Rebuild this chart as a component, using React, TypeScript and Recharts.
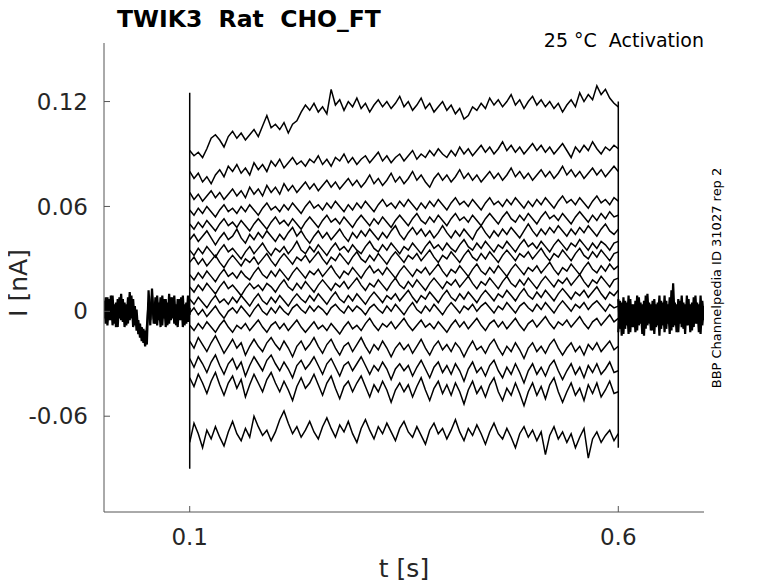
import React from "react";
import { LineChart, Line, XAxis, YAxis } from "recharts";

// Current traces during the voltage step (pA), sampled every 5 ms from 0.1 s to 0.6 s
const TRACE_A = [
  92, 89, 91, 88, 93, 99, 101, 98, 94, 100,
  103, 99, 102, 98, 101, 104, 100, 106, 112, 105,
  107, 104, 108, 102, 107, 109, 114, 118, 115, 119,
  114, 117, 113, 127, 118, 121, 115, 120, 117, 122,
  116, 119, 114, 118, 121, 117, 120, 116, 119, 123,
  117, 120, 115, 118, 122, 116, 119, 114, 117, 120,
  115, 118, 113, 116, 110, 112, 117, 115, 119, 116,
  122, 118, 121, 117, 120, 124, 118, 121, 116, 120,
  123, 118, 121, 117, 120, 116, 119, 114, 118, 121,
  117, 125, 120, 124, 121, 129, 124, 127, 122, 119,
  117,
];
const TRACE_B = [
  80, 76, 79, 74, 77, 73, 78, 81, 77, 83,
  80, 84, 79, 82, 78, 85, 81, 84, 80, 86,
  83, 87, 82, 85, 88, 84, 86, 83, 87, 85,
  89, 84, 87, 83, 88, 86, 90, 85, 88, 84,
  87, 89, 85, 88, 91, 86, 89, 85, 88, 90,
  86, 89, 92, 87, 90, 88, 92, 89, 93, 90,
  88, 92, 89, 94, 90, 93, 89, 92, 95, 91,
  94, 90, 93, 97, 92, 95, 91, 94, 90, 93,
  96, 92, 95, 91, 94, 90, 93, 96, 92, 88,
  94, 91, 95, 92, 97, 93, 90, 94, 92, 95,
  93,
];
const TRACE_C = [
  68, 64, 67, 63, 66, 69, 65, 68, 64, 67,
  70, 66, 69, 65, 71, 67, 70, 66, 72, 68,
  71, 67, 73, 69, 72, 68, 71, 74, 70, 73,
  69, 72, 75, 71, 74, 70, 73, 76, 72, 75,
  71, 74, 78, 73, 76, 72, 75, 79, 74, 77,
  73, 76, 80, 75, 78, 74, 71, 76, 79, 75,
  78, 74, 77, 81, 76, 79, 75, 78, 74, 77,
  80, 76, 79, 75, 78, 82, 77, 80, 76, 79,
  75, 78, 81, 77, 80, 76, 79, 83, 78, 81,
  77, 80, 76, 79, 82, 78, 81, 77, 80, 83,
  80,
];
const TRACE_D = [
  58, 55, 59, 56, 60, 57, 54, 58, 61, 57,
  59, 56, 60, 57, 61, 58, 55, 59, 62, 58,
  60, 57, 61, 58, 62, 59, 56, 60, 63, 59,
  61, 58, 62, 59, 63, 60, 57, 61, 58, 62,
  59, 63, 60, 57, 61, 64, 60, 62, 59, 63,
  60, 64, 61, 58, 62, 59, 63, 60, 64, 61,
  58, 62, 65, 61, 63, 60, 64, 61, 58, 62,
  65, 61, 63, 60, 64, 61, 65, 62, 59, 63,
  60, 64, 61, 65, 62, 59, 63, 66, 62, 64,
  61, 65, 62, 59, 63, 66, 62, 64, 61, 65,
  63,
];
const TRACE_E = [
  50, 47, 51, 48, 52, 49, 46, 50, 53, 49,
  51, 48, 52, 49, 46, 50, 53, 50, 47, 51,
  54, 50, 52, 49, 53, 50, 47, 51, 54, 51,
  48, 52, 55, 51, 53, 50, 54, 51, 48, 52,
  55, 52, 49, 53, 50, 54, 51, 48, 52, 55,
  52, 49, 53, 56, 52, 50, 54, 51, 55, 52,
  49, 53, 56, 52, 54, 51, 55, 52, 49, 53,
  56, 53, 50, 54, 57, 53, 51, 55, 52, 56,
  53, 50, 54, 57, 53, 55, 52, 56, 53, 50,
  54, 57, 54, 51, 55, 52, 56, 53, 57, 54,
  55,
];
const TRACE_F = [
  41, 44, 40, 43, 46, 42, 38, 42, 45, 41,
  43, 47, 42, 39, 44, 41, 45, 42, 46, 43,
  40, 44, 41, 45, 48, 43, 46, 42, 39, 43,
  46, 42, 45, 41, 44, 47, 43, 40, 45, 42,
  46, 43, 47, 44, 41, 45, 42, 46, 49, 44,
  41, 45, 48, 44, 47, 43, 46, 42, 45, 49,
  45, 42, 46, 43, 47, 44, 41, 46, 49, 45,
  42, 46, 43, 47, 44, 48, 45, 42, 46, 50,
  46, 43, 47, 44, 48, 45, 49, 46, 43, 47,
  44, 48, 45, 49, 46, 43, 47, 50, 46, 44,
  47,
];
const TRACE_G = [
  35, 32, 36, 33, 37, 34, 31, 35, 38, 34,
  36, 33, 30, 34, 37, 33, 36, 39, 35, 32,
  36, 34, 37, 33, 36, 40, 35, 33, 37, 34,
  38, 35, 32, 36, 39, 35, 37, 34, 38, 35,
  33, 37, 40, 36, 34, 38, 35, 39, 36, 33,
  37, 35, 39, 36, 33, 37, 40, 36, 38, 35,
  39, 36, 34, 38, 41, 37, 35, 39, 36, 40,
  37, 34, 38, 36, 40, 37, 34, 38, 41, 37,
  39, 36, 40, 37, 34, 38, 41, 38, 35, 39,
  37, 41, 38, 35, 39, 36, 40, 38, 35, 39,
  40,
];
const TRACE_H = [
  28, 31, 27, 30, 26, 29, 32, 28, 25, 29,
  32, 29, 26, 30, 28, 31, 27, 30, 33, 29,
  26, 30, 33, 30, 27, 31, 29, 32, 28, 31,
  34, 30, 27, 31, 29, 33, 30, 27, 31, 34,
  30, 28, 32, 29, 33, 30, 27, 31, 34, 31,
  28, 32, 30, 33, 29, 32, 35, 31, 28, 32,
  30, 34, 31, 28, 32, 35, 31, 29, 33, 30,
  34, 31, 28, 32, 35, 32, 29, 33, 31, 34,
  30, 33, 36, 32, 29, 33, 31, 35, 32, 29,
  33, 36, 32, 30, 34, 31, 35, 32, 29, 33,
  34,
];
const TRACE_I = [
  21, 18, 22, 19, 23, 20, 17, 21, 24, 20,
  22, 19, 23, 20, 18, 22, 25, 21, 19, 23,
  20, 24, 21, 18, 22, 25, 22, 19, 23, 21,
  24, 20, 23, 26, 22, 19, 23, 21, 25, 22,
  19, 23, 26, 22, 24, 21, 25, 22, 19, 23,
  26, 23, 20, 24, 22, 25, 21, 24, 27, 23,
  20, 24, 22, 26, 23, 20, 24, 27, 23, 21,
  25, 22, 26, 23, 20, 24, 27, 24, 21, 25,
  23, 26, 22, 25, 28, 24, 21, 25, 23, 27,
  24, 21, 25, 28, 24, 22, 26, 23, 27, 24,
  26,
];
const TRACE_J = [
  14, 11, 15, 12, 16, 13, 10, 14, 17, 13,
  15, 12, 9, 13, 16, 13, 15, 12, 16, 14,
  11, 15, 18, 14, 12, 16, 13, 17, 14, 11,
  15, 18, 15, 12, 16, 14, 17, 13, 16, 19,
  15, 12, 16, 14, 18, 15, 12, 16, 19, 15,
  13, 17, 14, 18, 15, 12, 16, 19, 16, 13,
  17, 15, 18, 14, 17, 20, 16, 13, 17, 15,
  19, 16, 13, 17, 20, 16, 14, 18, 15, 19,
  16, 13, 17, 20, 17, 14, 18, 16, 19, 15,
  18, 21, 17, 14, 18, 16, 20, 17, 14, 18,
  19,
];
const TRACE_K = [
  7, 4, 8, 5, 2, 6, 9, 5, 7, 4,
  8, 5, 9, 6, 3, 7, 10, 6, 4, 8,
  5, 9, 6, 3, 7, 10, 7, 5, 9, 6,
  10, 7, 4, 8, 11, 7, 5, 9, 6, 10,
  7, 4, 8, 11, 8, 5, 9, 7, 10, 6,
  9, 12, 8, 5, 9, 7, 11, 8, 5, 9,
  12, 8, 6, 10, 7, 11, 8, 5, 9, 12,
  9, 6, 10, 8, 12, 9, 6, 10, 13, 9,
  7, 11, 8, 12, 9, 6, 10, 13, 10, 7,
  11, 9, 12, 8, 11, 14, 10, 7, 11, 9,
  12,
];
const TRACE_L = [
  -1, 2, -2, 1, -3, 0, 3, -1, -4, 0,
  2, -1, 3, 0, -3, 1, 4, 0, -2, 2,
  -1, 3, 0, -2, 2, 4, 1, -1, 3, 0,
  3, 1, -2, 2, 4, 1, -1, 3, 0, 3,
  1, -2, 2, 4, 1, -1, 3, 0, 4, 1,
  -2, 2, 5, 1, -1, 3, 0, 4, 1, -2,
  2, 5, 2, -1, 3, 1, 4, 0, 3, 5,
  2, -1, 3, 1, 5, 2, -1, 3, 5, 2,
  0, 4, 1, 5, 2, -1, 3, 6, 3, 0,
  4, 2, 5, 1, 4, 6, 3, 0, 4, 2,
  3,
];
const TRACE_M = [
  -8, -11, -7, -10, -6, -9, -12, -8, -5, -9,
  -12, -8, -10, -7, -11, -8, -5, -9, -12, -8,
  -6, -10, -7, -11, -8, -5, -9, -12, -9, -6,
  -10, -8, -11, -7, -10, -13, -9, -6, -10, -8,
  -11, -7, -4, -8, -11, -7, -9, -6, -10, -7,
  -4, -8, -11, -8, -5, -9, -7, -10, -6, -9,
  -12, -8, -5, -9, -6, -10, -7, -4, -8, -11,
  -7, -5, -9, -6, -10, -7, -4, -8, -11, -7,
  -5, -9, -6, -3, -7, -10, -6, -8, -5, -9,
  -6, -3, -7, -10, -6, -4, -8, -5, -2, -6,
  -4,
];
const TRACE_N = [
  -17, -21, -15, -19, -23, -18, -14, -19, -24, -20,
  -16, -21, -18, -25, -20, -16, -20, -23, -18, -15,
  -19, -22, -17, -21, -26, -20, -17, -22, -19, -15,
  -20, -24, -19, -16, -21, -25, -20, -18, -23, -19,
  -15, -20, -24, -19, -22, -17, -21, -26, -21, -18,
  -22, -19, -24, -20, -16, -21, -25, -20, -17, -22,
  -19, -23, -18, -21, -26, -21, -17, -22, -20, -24,
  -19, -16, -21, -25, -20, -23, -18, -22, -27, -21,
  -18, -23, -20, -24, -19, -16, -21, -25, -21, -18,
  -23, -20, -25, -19, -22, -18, -23, -20, -17, -22,
  -20,
];
const TRACE_O = [
  -27, -32, -26, -30, -35, -29, -25, -31, -36, -30,
  -27, -33, -29, -37, -31, -26, -30, -34, -28, -25,
  -30, -34, -29, -33, -38, -31, -28, -33, -30, -26,
  -31, -36, -30, -27, -32, -37, -31, -29, -34, -30,
  -26, -31, -36, -31, -34, -29, -33, -39, -33, -30,
  -34, -31, -37, -32, -28, -33, -38, -32, -29, -35,
  -31, -36, -30, -34, -40, -33, -29, -35, -32, -37,
  -31, -28, -34, -38, -32, -36, -30, -35, -41, -34,
  -30, -36, -32, -37, -31, -28, -34, -39, -34, -30,
  -36, -32, -38, -31, -35, -30, -36, -33, -29, -35,
  -34,
];
const TRACE_P = [
  -38, -43, -36, -41, -47, -40, -35, -42, -48, -41,
  -37, -44, -39, -49, -42, -36, -41, -46, -39, -35,
  -41, -46, -40, -45, -51, -43, -38, -44, -41, -36,
  -42, -48, -41, -37, -44, -50, -43, -40, -46, -41,
  -37, -43, -49, -42, -46, -40, -45, -52, -45, -41,
  -46, -42, -49, -43, -38, -45, -51, -44, -40, -47,
  -42, -48, -41, -46, -53, -45, -40, -47, -43, -49,
  -42, -38, -46, -51, -44, -48, -41, -47, -54, -46,
  -41, -48, -43, -50, -42, -38, -46, -52, -46, -41,
  -48, -44, -51, -42, -47, -41, -49, -45, -40, -47,
  -46,
];
const TRACE_Q = [
  -75, -64, -70, -78, -68, -73, -66, -72, -77, -69,
  -63, -70, -74, -67, -72, -60, -66, -71, -68, -74,
  -69, -62, -57, -64, -70, -66, -72, -68, -63, -69,
  -73, -66, -61, -67, -72, -65, -69, -63, -70, -75,
  -67, -62, -68, -73, -66, -70, -64, -69, -74, -67,
  -63, -69, -72, -66, -71, -76, -68, -64, -70, -67,
  -73, -68, -62, -69, -74, -67, -71, -65, -70, -76,
  -69, -64, -70, -73, -67, -72, -78, -70, -66, -72,
  -68, -74, -69, -82, -71, -66, -73, -69, -75, -70,
  -78, -72, -67, -84, -73, -69, -75, -71, -68, -74,
  -70,
];

// Holding current before (0-0.1 s) and after (0.6-0.7 s) the step, pA, every 2 ms
const BASE_PRE_1 = [
  6, -7, 8, -5, 9, -8, 4, -9, 7, -4,
  10, -6, 5, -8, 8, -5, 9, -9, 3, -11,
  -5, -15, -9, -18, -11, -19, 12, -5, 9, -7,
  8, -8, 5, -9, 9, -4, 7, -8, 10, -5,
  8, -7, 4, -9, 7, -5, 9, -8, 5, -6,
  2,
];
const BASE_PRE_2 = [
  -4, 8, -8, 7, -5, 9, -7, 5, -9, 8,
  -5, 7, -9, 4, -7, 11, -4, 7, -8, 1,
  -13, -7, -17, -10, -20, -9, 5, -8, 13, -4,
  -7, 9, -5, 8, -8, 7, -9, 5, -7, 8,
  -4, 9, -8, 7, -5, 8, -9, 4, -7, 9,
  -2,
];
const BASE_POST_1 = [
  -12, 6, -14, 8, -10, 5, -13, 7, -9, 4,
  -12, 9, -8, 5, -13, 6, -10, 10, -7, 4,
  -11, 7, -9, 5, -14, 6, -8, 9, -10, 4,
  -13, 12, -9, 5, -12, 7, -7, 9, -10, 4,
  -8, 7, -12, 5, -9, 9, -7, 4, -13, 6,
  -5,
];
const BASE_POST_2 = [
  7, -10, 5, -13, 6, -8, 9, -12, 4, -9,
  6, -11, 8, -7, 4, -14, 9, -8, 5, -11,
  6, -13, 4, -8, 9, -10, 5, -12, 6, -7,
  8, -11, 16, -8, 4, -12, 6, -9, 5, -13,
  9, -8, 4, -11, 8, -7, 5, -12, 9, -8,
  3,
];

// Capacitive transients at step onset / offset (pA extremes)
const ONSET_T = 0.1;
const ONSET_RANGE = [-90, 125];
const OFFSET_T = 0.6;
const OFFSET_RANGE = [-78, 120];

const X_TICKS = [0.1, 0.6];
const Y_TICKS = [-0.06, 0, 0.06, 0.12];

const PULSE_START = 0.1;
const PULSE_DT = 0.005;
const BASE_DT = 0.002;
const PRE_START = 0;
const POST_START = 0.6;

const PULSE_TRACES = [
  TRACE_A, TRACE_B, TRACE_C, TRACE_D, TRACE_E, TRACE_F, TRACE_G, TRACE_H, TRACE_I,
  TRACE_J, TRACE_K, TRACE_L, TRACE_M, TRACE_N, TRACE_O, TRACE_P, TRACE_Q,
];

const toSeries = (vals: number[], t0: number, dt: number) =>
  vals.map((v, i) => ({ t: +(t0 + i * dt).toFixed(4), v: v / 1000 }));

const PULSE_SERIES = PULSE_TRACES.map((tr) => toSeries(tr, PULSE_START, PULSE_DT));
const BASE_SERIES = [
  toSeries(BASE_PRE_1, PRE_START, BASE_DT),
  toSeries(BASE_PRE_2, PRE_START, BASE_DT),
  toSeries(BASE_POST_1, POST_START, BASE_DT),
  toSeries(BASE_POST_2, POST_START, BASE_DT),
];
const TRANSIENT_SERIES = [
  ONSET_RANGE.map((v) => ({ t: ONSET_T, v: v / 1000 })),
  OFFSET_RANGE.map((v) => ({ t: OFFSET_T, v: v / 1000 })),
];

const FONT = "'DejaVu Sans', sans-serif";
const TXT = "#262626";
const AXIS = "#555555";

export default function App() {
  return (
    <div style={{ position: "relative", width: 770, height: 575, fontFamily: FONT }}>
      <LineChart
        width={770}
        height={575}
        margin={{ top: 35, right: 74, bottom: 0, left: 0 }}
      >
        <XAxis
          type="number"
          dataKey="t"
          domain={[0, 0.7]}
          ticks={X_TICKS}
          allowDataOverflow
          height={71}
          tickSize={-6}
          tickMargin={23}
          stroke={AXIS}
          tick={{ fontSize: 23, fill: TXT, fontFamily: FONT }}
        />
        <YAxis
          type="number"
          dataKey="v"
          domain={[-0.1148, 0.1535]}
          ticks={Y_TICKS}
          allowDataOverflow
          width={96}
          tickSize={-6}
          tickMargin={22}
          stroke={AXIS}
          tick={{ fontSize: 23, fill: TXT, fontFamily: FONT }}
        />
        {PULSE_SERIES.map((s, i) => (
          <Line
            key={"p" + i}
            data={s}
            dataKey="v"
            type="linear"
            stroke="#000"
            strokeWidth={1.5}
            dot={false}
            activeDot={false}
            isAnimationActive={false}
          />
        ))}
        {BASE_SERIES.map((s, i) => (
          <Line
            key={"b" + i}
            data={s}
            dataKey="v"
            type="linear"
            stroke="#000"
            strokeWidth={2.2}
            dot={false}
            activeDot={false}
            isAnimationActive={false}
          />
        ))}
        {TRANSIENT_SERIES.map((s, i) => (
          <Line
            key={"t" + i}
            data={s}
            dataKey="v"
            type="linear"
            stroke="#000"
            strokeWidth={1.5}
            dot={false}
            activeDot={false}
            isAnimationActive={false}
          />
        ))}
      </LineChart>
      <div
        style={{
          position: "absolute",
          left: 109,
          top: -3,
          fontSize: 23.5,
          fontWeight: "bold",
          whiteSpace: "pre",
          color: "#000",
        }}
      >
        {"TWIK3  Rat  CHO_FT"}
      </div>
      <div
        style={{
          position: "absolute",
          right: 770 - 696,
          top: 21,
          fontSize: 19,
          whiteSpace: "pre",
          color: "#000",
        }}
      >
        {"25 °C  Activation"}
      </div>
      <div
        style={{
          position: "absolute",
          left: 708,
          top: 270,
          fontSize: 13,
          whiteSpace: "pre",
          color: "#000",
          transform: "translate(-50%, -50%) rotate(-90deg)",
        }}
      >
        BBP Channelpedia ID 31027 rep 2
      </div>
      <div
        style={{
          position: "absolute",
          left: 10,
          top: 275,
          fontSize: 25,
          whiteSpace: "pre",
          color: TXT,
          transform: "translate(-50%, -50%) rotate(-90deg)",
        }}
      >
        I [nA]
      </div>
      <div
        style={{
          position: "absolute",
          left: 396,
          top: 560,
          fontSize: 25,
          whiteSpace: "pre",
          color: TXT,
          transform: "translate(-50%, -50%)",
        }}
      >
        t [s]
      </div>
    </div>
  );
}
